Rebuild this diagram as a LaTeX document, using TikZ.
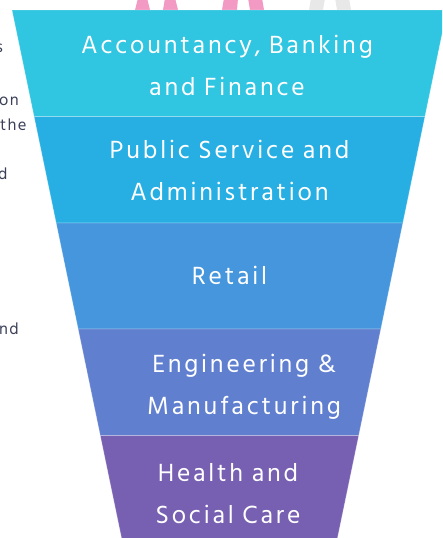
\documentclass[tikz,border=0pt]{standalone}
\usepackage{fontspec}
\setmainfont{Hind Siliguri}[LetterSpace=11]
\newfontfamily\sidefont{Hind Siliguri}[LetterSpace=8]
\definecolor{bandA}{HTML}{30C5E0}
\definecolor{bandB}{HTML}{27AFE4}
\definecolor{bandC}{HTML}{4596DD}
\definecolor{bandD}{HTML}{617FCF}
\definecolor{bandE}{HTML}{7760B2}
\definecolor{pinkleg}{HTML}{F29AC3}
\definecolor{grayleg}{HTML}{E8E8E8}
\definecolor{sidetext}{HTML}{3B4058}
\tikzset{
  band/.style={draw=white, draw opacity=0.25, line width=0.8pt},
  label/.style={text=white, align=center, anchor=base, font=\fontsize{25.5}{41.5}\selectfont},
  sidelabel/.style={text=sidetext, anchor=base west, inner sep=0pt, font=\sidefont\fontsize{16.5}{18}\selectfont},
}
\begin{document}
\begin{tikzpicture}[x=1pt,y=-1pt]
\useasboundingbox (0,0) rectangle (442,538);
\clip (0,0) rectangle (442,538);
% decorative legs above the funnel
\fill[pinkleg] (135,10) -- (138,-2) -- (147,-2) -- (150,10) -- cycle;
\fill[pinkleg] (163,10) -- (165,-2) -- (175,-2) -- (178,10) -- cycle;
\fill[pinkleg] (222,10) -- (224,-2) -- (238,-2) -- (237,10) -- cycle;
\fill[pinkleg] (250,10) -- (248,-2) -- (262,-2) -- (264,10) -- cycle;
\fill[grayleg] (309,10) -- (311,-2) -- (325,-2) -- (323,10) -- cycle;
\fill[grayleg] (337,10) -- (335,-2) -- (349,-2) -- (351,10) -- cycle;
% side text fragments (cut off at the left edge, as in the reference)
\node[sidelabel] (s1) at (-4,52) {s};
\node[sidelabel] (s2) at (-1,105) {on};
\node[sidelabel] (s3) at (0,130) {the};
\node[sidelabel] (s4) at (-2,179) {d};
\node[sidelabel] (s5) at (-1,334) {nd};
% funnel bands
\fill[bandA, band] (12,10) -- (447,10) -- (424.9,116.5) -- (34.1,116.5) -- cycle;
\fill[bandB, band] (34.1,116.5) -- (424.9,116.5) -- (402.8,223) -- (56.2,223) -- cycle;
\fill[bandC, band] (56.2,223) -- (402.8,223) -- (380.8,329) -- (78.2,329) -- cycle;
\fill[bandD, band] (78.2,329) -- (380.8,329) -- (358.7,435.5) -- (100.3,435.5) -- cycle;
\fill[bandE, band] (100.3,435.5) -- (358.7,435.5) -- (336.6,542) -- (122.4,542) -- cycle;
% labels
\node[label] (l1) at (227,95) {Accountancy, Banking\\and Finance};
\node[label] (l2) at (229.5,200) {Public Service and\\Administration};
\node[label] (l3) at (229.5,284) {Retail};
\node[label] (l4) at (244,414) {Engineering \&\\Manufacturing};
\node[label] (l5) at (228,523) {Health and\\Social Care};
\end{tikzpicture}
\end{document}
